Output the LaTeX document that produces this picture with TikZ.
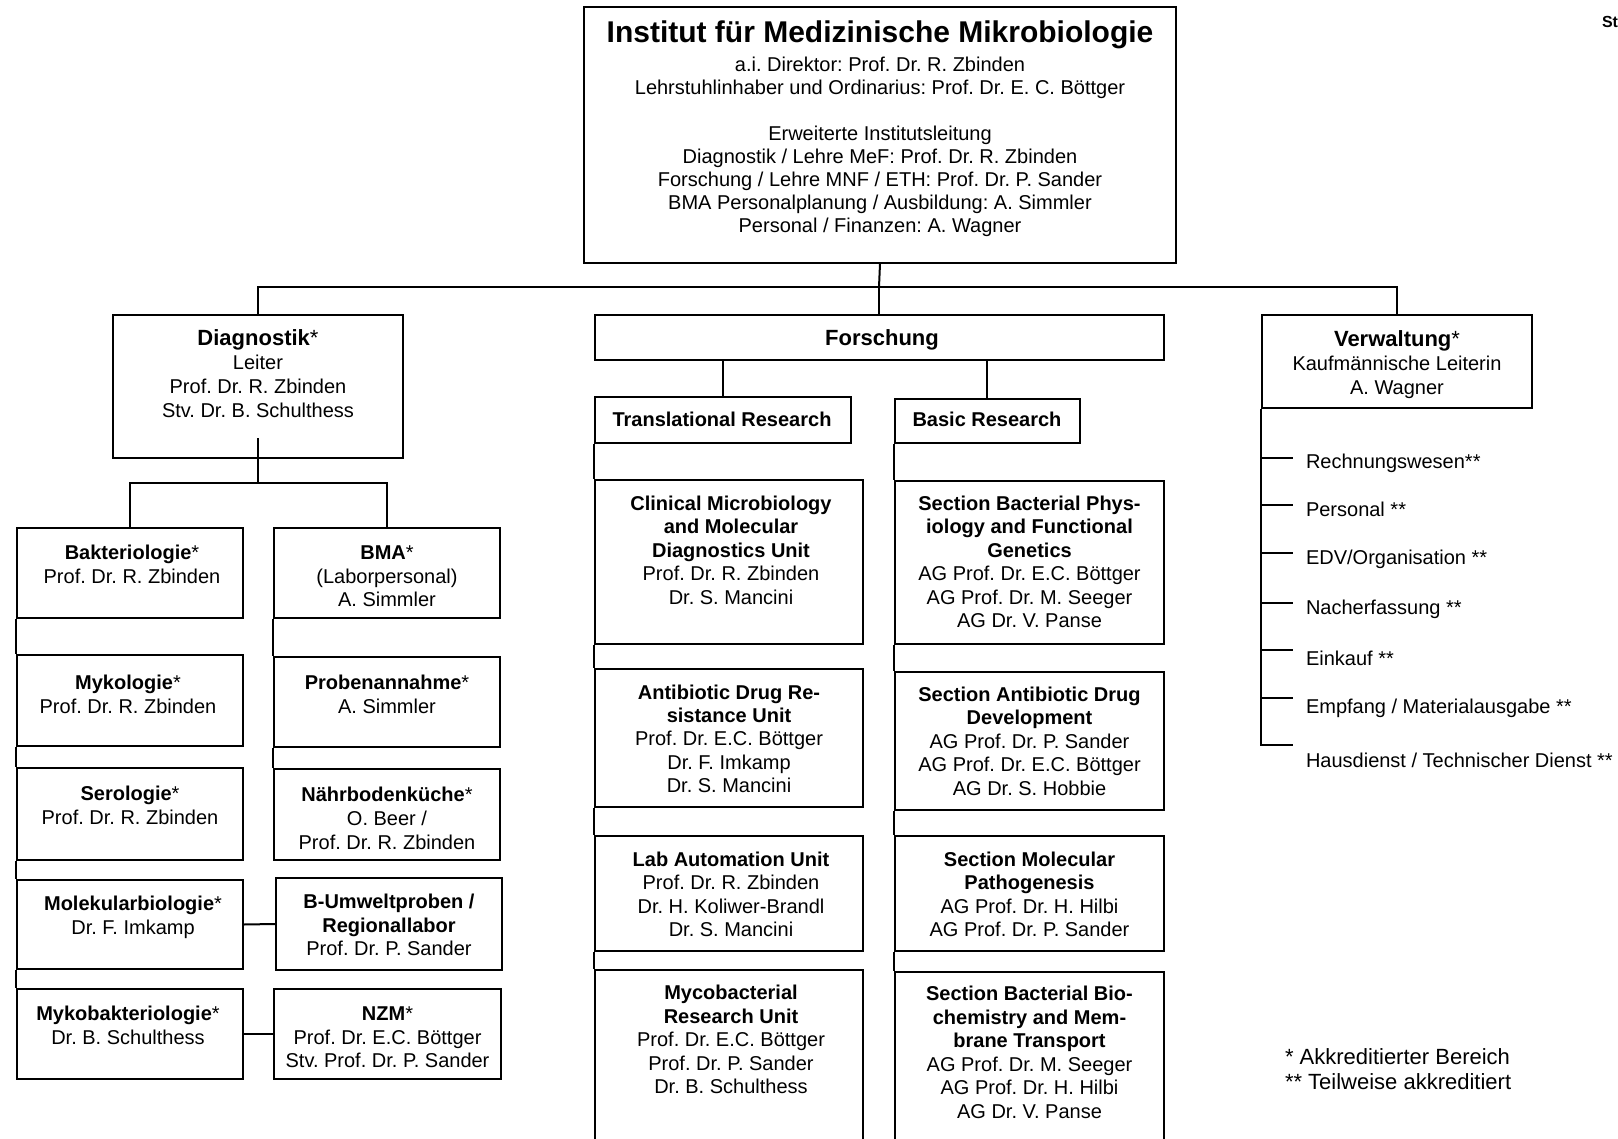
\documentclass[tikz,border=0pt]{standalone}
\usepackage{fontspec}
\setmainfont{Liberation Sans}
\usetikzlibrary{fit}
\begin{document}
\frenchspacing
\begin{tikzpicture}[x=0.5pt,y=-0.5pt,line width=1pt,
  box/.style={draw,inner sep=0pt,line width=1pt},
  txt/.style={align=center,inner sep=0pt,anchor=north,font=\fontsize{10}{11.75}\selectfont},
  hdtxt/.style={txt,font=\fontsize{10}{12}\selectfont},
  one/.style={anchor=base,inner sep=0pt,font=\fontsize{10}{12}\selectfont\bfseries},
  item/.style={anchor=base west,inner sep=0pt,font=\fontsize{10}{12}\selectfont}]
\useasboundingbox (0,0) rectangle (1618,1139);
\clip (0,0) rectangle (1618,1139);

% ---------- top ----------
\node[box,fit={(584,7)(1176,263)}] (inst) {};
\node[anchor=base,inner sep=0pt,font=\fontsize{15}{18}\selectfont\bfseries] (title) at (880,43) {Institut für Medizinische Mikrobiologie};
\node[txt,font=\fontsize{10}{11.5}\selectfont] (instT) at (880,54.9) {\strut a.i. Direktor: Prof. Dr. R. Zbinden\\Lehrstuhlinhaber und Ordinarius: Prof. Dr. E. C. Böttger\\[11.5pt]Erweiterte Institutsleitung\\Diagnostik / Lehre MeF: Prof. Dr. R. Zbinden\\Forschung / Lehre MNF / ETH: Prof. Dr. P. Sander\\BMA Personalplanung / Ausbildung: A. Simmler\\Personal / Finanzen: A. Wagner};
\node[anchor=base west,inner sep=0pt,font=\fontsize{8}{9}\selectfont\bfseries] (st) at (1601,28) {St};

% ---------- Diagnostik ----------
\node[box,fit={(113,315)(403,458)}] (diag) {};
\node[hdtxt] (diagT) at (258,327.7) {\strut{\fontsize{11}{12}\selectfont\textbf{Diagnostik}*}\\Leiter\\Prof. Dr. R. Zbinden\\Stv. Dr. B. Schulthess};

\node[box,fit={(17,528)(243,618)}] (bakt) {};
\node[txt] (baktT) at (132,542.5) {\strut\textbf{Bakteriologie}*\\Prof. Dr. R. Zbinden};
\node[box,fit={(17,655)(243,746)}] (myko) {};
\node[txt] (mykoT) at (128,672.5) {\strut\textbf{Mykologie}*\\Prof. Dr. R. Zbinden};
\node[box,fit={(17,768)(243,860)}] (sero) {};
\node[txt] (seroT) at (130,783.5) {\strut\textbf{Serologie}*\\Prof. Dr. R. Zbinden};
\node[box,fit={(17,880)(243,969)}] (molek) {};
\node[txt] (molekT) at (133,893.5) {\strut\textbf{Molekularbiologie}*\\Dr. F. Imkamp};
\node[box,fit={(17,989)(243,1079)}] (mykob) {};
\node[txt] (mykobT) at (128,1003.5) {\strut\textbf{Mykobakteriologie}*\\Dr. B. Schulthess};

\node[box,fit={(274,528)(500,618)}] (bma) {};
\node[txt] (bmaT) at (387,542.5) {\strut\textbf{BMA}*\\(Laborpersonal)\\A. Simmler};
\node[box,fit={(274,657)(500,747)}] (prob) {};
\node[txt] (probT) at (387,672.5) {\strut\textbf{Probenannahme}*\\A. Simmler};
\node[box,fit={(274,769)(500,860)}] (naehr) {};
\node[txt,font=\fontsize{10}{12}\selectfont] (naehrT) at (387,783.2) {\strut\textbf{Nährbodenküche}*\\O. Beer /\\Prof. Dr. R. Zbinden};
\node[box,fit={(276,878)(502,970)}] (bumw) {};
\node[txt] (bumwT) at (389,891.5) {\strut\textbf{B-Umweltproben /}\\\textbf{Regionallabor}\\Prof. Dr. P. Sander};
\node[box,fit={(274,989)(501,1079)}] (nzm) {};
\node[txt] (nzmT) at (387.5,1003.5) {\strut\textbf{NZM}*\\Prof. Dr. E.C. Böttger\\Stv. Prof. Dr. P. Sander};

% ---------- Forschung ----------
\node[box,fit={(595,315)(1164,360)}] (forsch) {};
\node[one,font=\fontsize{11}{12}\selectfont\bfseries] (forschT) at (882,345.5) {Forschung};
\node[box,fit={(595,397)(851,443)}] (trans) {};
\node[one] (transT) at (722,427) {Translational Research};
\node[box,fit={(895,399)(1080,443)}] (basic) {};
\node[one] (basicT) at (987,427) {Basic Research};

\node[box,fit={(595,480)(863,644)}] (clin) {};
\node[txt] (clinT) at (731,493) {\strut\textbf{Clinical Microbiology}\\\textbf{and Molecular}\\\textbf{Diagnostics Unit}\\Prof. Dr. R. Zbinden\\Dr. S. Mancini};
\node[box,fit={(595,669)(863,807)}] (abr) {};
\node[txt,font=\fontsize{10}{11.6}\selectfont] (abrT) at (729,682.3) {\strut\textbf{Antibiotic Drug Re-}\\\textbf{sistance Unit}\\Prof. Dr. E.C. Böttger\\Dr. F. Imkamp\\Dr. S. Mancini};
\node[box,fit={(595,836)(863,951)}] (lab) {};
\node[txt] (labT) at (731,849) {\strut\textbf{Lab Automation Unit}\\Prof. Dr. R. Zbinden\\Dr. H. Koliwer-Brandl\\Dr. S. Mancini};
\node[box,fit={(595,970)(863,1170)}] (mycu) {};
\node[txt] (mycuT) at (731,982.5) {\strut\textbf{Mycobacterial}\\\textbf{Research Unit}\\Prof. Dr. E.C. Böttger\\Prof. Dr. P. Sander\\Dr. B. Schulthess};

\node[box,fit={(895,481)(1164,644)}] (bphys) {};
\node[txt] (bphysT) at (1029.5,493) {\strut\textbf{Section Bacterial Phys-}\\\textbf{iology and Functional}\\\textbf{Genetics}\\AG Prof. Dr. E.C. Böttger\\AG Prof. Dr. M. Seeger\\AG Dr. V. Panse};
\node[box,fit={(895,672)(1164,810)}] (adev) {};
\node[txt] (adevT) at (1029.5,684) {\strut\textbf{Section Antibiotic Drug}\\\textbf{Development}\\AG Prof. Dr. P. Sander\\AG Prof. Dr. E.C. Böttger\\AG Dr. S. Hobbie};
\node[box,fit={(895,836)(1164,951)}] (mpath) {};
\node[txt] (mpathT) at (1029.5,849) {\strut\textbf{Section Molecular}\\\textbf{Pathogenesis}\\AG Prof. Dr. H. Hilbi\\AG Prof. Dr. P. Sander};
\node[box,fit={(895,972)(1164,1170)}] (bbio) {};
\node[txt] (bbioT) at (1029.5,983.5) {\strut\textbf{Section Bacterial Bio-}\\\textbf{chemistry and Mem-}\\\textbf{brane Transport}\\AG Prof. Dr. M. Seeger\\AG Prof. Dr. H. Hilbi\\AG Dr. V. Panse};

% ---------- Verwaltung ----------
\node[box,fit={(1262,315)(1532,408)}] (verw) {};
\node[hdtxt] (verwT) at (1397,328.2) {\strut{\fontsize{11}{12}\selectfont\textbf{Verwaltung}*}\\Kaufmännische Leiterin\\A. Wagner};

\coordinate (t1) at (1293,458);
\coordinate (t2) at (1293,505);
\coordinate (t3) at (1293,553);
\coordinate (t4) at (1293,603);
\coordinate (t5) at (1293,650);
\coordinate (t6) at (1293,698);
\coordinate (t7) at (1293,745);
\node[item] (v1) at (1305,468) {Rechnungswesen**};
\node[item] (v2) at (1305,516) {Personal **};
\node[item] (v3) at (1305,564) {EDV/Organisation **};
\node[item] (v4) at (1305,614) {Nacherfassung **};
\node[item] (v5) at (1305,665) {Einkauf **};
\node[item] (v6) at (1305,713) {Empfang / Materialausgabe **};
\node[item] (v7) at (1305,767) {Hausdienst / Technischer Dienst **};

\node[txt,anchor=north west,align=left,font=\fontsize{11}{12.5}\selectfont] (legend) at (1284,1045.5) {\strut * Akkreditierter Bereich\\** Teilweise akkreditiert};

% ---------- connectors ----------
\coordinate (bus) at (879,287);
\draw (inst.south) -- (bus);
\draw (diag.north) |- (bus) -| (verw.north);
\draw (bus) -- (bus |- forsch.north);

\coordinate (dstub) at (258,438);
\coordinate (dbar) at (258,483);
\draw (dstub) -- (dbar);
\draw (bakt.north) |- (dbar) -| (bma.north);
\draw (bakt.south west) -- (myko.north west);
\draw (myko.south west) -- (sero.north west);
\draw (sero.south west) -- (molek.north west);
\draw (molek.south west) -- (mykob.north west);
\draw (bma.south west) -- (prob.north west);
\draw (prob.south west) -- (naehr.north west);
\draw (molek.east) -- (bumw.west);
\draw (mykob.east) -- (nzm.west);

\draw (forsch.south -| trans.north) -- (trans.north);
\draw (forsch.south -| basicT) -- (basicT |- basic.north);
\draw (trans.south west) -- (clin.north west);
\draw (clin.south west) -- (abr.north west);
\draw (abr.south west) -- (lab.north west);
\draw (lab.south west) -- (mycu.north west);
\draw (basic.south west) -- (bphys.north west);
\draw (bphys.south west) -- (adev.north west);
\draw (adev.south west) -- (mpath.north west);
\draw (mpath.south west) -- (bbio.north west);

\draw (verw.south west) |- (t7);
\foreach \t in {t1,t2,t3,t4,t5,t6} \draw (\t -| verw.west) -- (\t);
\end{tikzpicture}
\end{document}
